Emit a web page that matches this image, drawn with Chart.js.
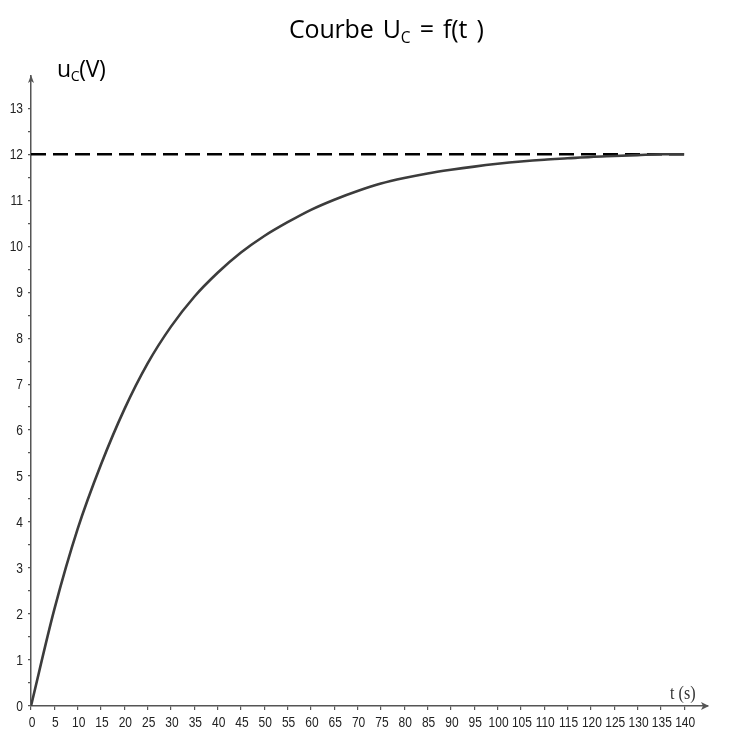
<!DOCTYPE html>
<html>
<head>
<meta charset="utf-8">
<script src="https://cdn.jsdelivr.net/npm/chart.js@4/dist/chart.umd.min.js"></script>
<style>
  html, body { margin: 0; padding: 0; background: #fff; }
  #wrap { position: relative; width: 738px; height: 731px; }
  canvas { position: absolute; left: 0; top: 0; }
  .lbl { position: absolute; white-space: nowrap; color: #000; line-height: 1; }
  #title { left: 289px; top: 11px; font: 25px "Open Sans", "Noto Sans", sans-serif; word-spacing: 3px; letter-spacing: -0.2px; }
  #ylab { left: 57px; top: 52px; font: 23px "Open Sans", "Noto Sans", sans-serif; letter-spacing: -0.4px; }
  #xlab { left: 670px; top: 682px; font: 19px "Liberation Serif", serif; color: #333; transform: scaleX(0.85); transform-origin: left top; }
  sub { font-size: 62%; vertical-align: -0.3em; }
</style>
</head>
<body>
<div id="wrap">
  <canvas id="c" width="738" height="731"></canvas>
  <div class="lbl" id="title">Courbe U<sub>C</sub> = f(t )</div>
  <div class="lbl" id="ylab">u<sub>C</sub>(V)</div>
  <div class="lbl" id="xlab">t (s)</div>
</div>
<script>
// Data
const times = [0, 5, 10, 15, 20, 25, 30, 35, 40, 45, 50, 55, 60, 65, 70, 75, 80, 85, 90, 95, 100, 105, 110, 115, 120, 125, 130, 135, 140];
const uc    = [0, 2.1, 3.85, 5.25, 6.45, 7.45, 8.25, 8.9, 9.42, 9.86, 10.22, 10.52, 10.79, 11.01, 11.2, 11.36, 11.48, 11.58, 11.66, 11.73, 11.79, 11.84, 11.88, 11.91, 11.94, 11.96, 11.98, 12.0, 12.0];
const asymptoteT = [0, 140];
const asymptoteU = [12, 12];
const xTickLabels = [0, 5, 10, 15, 20, 25, 30, 35, 40, 45, 50, 55, 60, 65, 70, 75, 80, 85, 90, 95, 100, 105, 110, 115, 120, 125, 130, 135, 140];
const yTickLabels = [0, 1, 2, 3, 4, 5, 6, 7, 8, 9, 10, 11, 12, 13];

const axisColor = '#555';
const labelFont = '15px "Liberation Sans", Arial, sans-serif';
const squeeze = 0.8;

// Draws the scale tick labels in a condensed face (the reference uses a narrow font)
const condensedLabels = {
  id: 'condensedLabels',
  afterDraw(chart) {
    const { ctx } = chart;
    const xs = chart.scales.x, ys = chart.scales.y;
    ctx.save();
    ctx.font = labelFont;
    ctx.fillStyle = '#222';
    ctx.textBaseline = 'top';
    ctx.textAlign = 'center';
    xs.ticks.forEach(t => {
      const px = xs.getPixelForValue(t.value);
      ctx.save();
      ctx.translate(px + 1, xs.top + 9);
      ctx.scale(squeeze, 1);
      ctx.fillText(String(t.value), 0, 0);
      ctx.restore();
    });
    ctx.textBaseline = 'middle';
    ctx.textAlign = 'right';
    ys.ticks.forEach(t => {
      if (!Number.isInteger(t.value)) return;
      const py = ys.getPixelForValue(t.value);
      ctx.save();
      ctx.translate(ys.right - 8, py + 1);
      ctx.scale(squeeze, 1);
      ctx.fillText(String(t.value), 0, 0);
      ctx.restore();
    });
    ctx.restore();
  }
};

const arrowPlugin = {
  id: 'arrows',
  afterDraw(chart) {
    const { ctx, chartArea: a } = chart;
    ctx.save();
    ctx.fillStyle = axisColor;
    ctx.beginPath();
    ctx.moveTo(a.right + 1, a.bottom);
    ctx.lineTo(a.right - 7, a.bottom - 4);
    ctx.lineTo(a.right - 5, a.bottom);
    ctx.lineTo(a.right - 7, a.bottom + 4);
    ctx.closePath();
    ctx.fill();
    ctx.beginPath();
    ctx.moveTo(a.left, a.top - 1);
    ctx.lineTo(a.left - 3, a.top + 7);
    ctx.lineTo(a.left, a.top + 5);
    ctx.lineTo(a.left + 3, a.top + 7);
    ctx.closePath();
    ctx.fill();
    ctx.restore();
  }
};

new Chart(document.getElementById('c'), {
  type: 'scatter',
  data: {
    datasets: [
      {
        label: 'asymptote',
        data: asymptoteT.map((t, i) => ({ x: t, y: asymptoteU[i] })),
        showLine: true,
        borderColor: '#000',
        borderWidth: 2.5,
        borderDash: [15, 7],
        pointRadius: 0,
        order: 2
      },
      {
        label: 'uC',
        data: times.map((t, i) => ({ x: t, y: uc[i] })),
        showLine: true,
        borderColor: '#3c3c3c',
        borderWidth: 2.6,
        cubicInterpolationMode: 'monotone',
        pointRadius: 0,
        order: 1
      }
    ]
  },
  options: {
    responsive: false,
    animation: false,
    events: [],
    layout: { padding: { left: 0, top: 76, right: 30, bottom: 0 } },
    plugins: { legend: { display: false }, title: { display: false }, tooltip: { enabled: false } },
    scales: {
      x: {
        type: 'linear',
        min: 0,
        max: 145.1,
        afterBuildTicks(s) { s.ticks = xTickLabels.map(v => ({ value: v })); },
        afterFit(s) { s.height = 25; },
        border: { display: true, color: axisColor, width: 1.5 },
        grid: { drawOnChartArea: false, drawTicks: true, tickLength: 4, color: axisColor, lineWidth: 1.2 },
        ticks: { display: false }
      },
      y: {
        type: 'linear',
        min: 0,
        max: 13.7,
        afterBuildTicks(s) {
          const t = [];
          for (let i = 0; i < yTickLabels.length; i++) {
            t.push({ value: yTickLabels[i] });
            if (i < yTickLabels.length - 1) t.push({ value: yTickLabels[i] + 0.5 });
          }
          s.ticks = t;
        },
        afterFit(s) { s.width = 31; },
        border: { display: true, color: axisColor, width: 1.5 },
        grid: { drawOnChartArea: false, drawTicks: true, tickLength: 3, color: axisColor, lineWidth: 1.2 },
        ticks: { display: false }
      }
    }
  },
  plugins: [arrowPlugin, condensedLabels]
});
</script>
</body>
</html>
